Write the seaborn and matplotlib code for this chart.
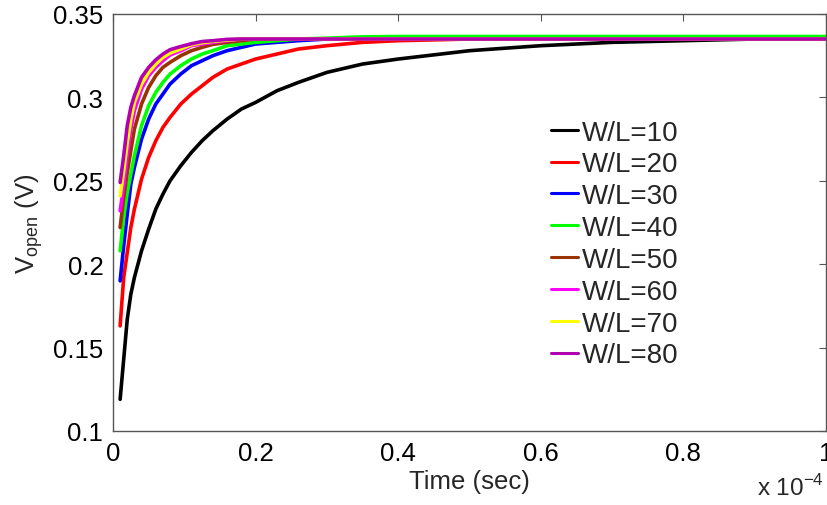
import numpy as np
import pandas as pd
import matplotlib
matplotlib.use("Agg")
import matplotlib.pyplot as plt
import seaborn as sns

# time in units of 1e-4 s
t = [0.01, 0.015, 0.02, 0.025, 0.03, 0.04, 0.05, 0.06, 0.07, 0.08, 0.095, 0.11,
     0.125, 0.14, 0.16, 0.18, 0.2, 0.23, 0.26, 0.3, 0.35, 0.4, 0.5, 0.6, 0.7,
     0.8, 0.9, 1.0]

wl10 = [0.119, 0.143, 0.167, 0.182, 0.192, 0.208, 0.221, 0.233, 0.242, 0.250,
        0.259, 0.267, 0.274, 0.280, 0.287, 0.293, 0.297, 0.304, 0.309, 0.315,
        0.320, 0.323, 0.328, 0.331, 0.333, 0.334, 0.335, 0.335]
wl20 = [0.163, 0.192, 0.207, 0.222, 0.233, 0.251, 0.264, 0.274, 0.282, 0.288,
        0.296, 0.302, 0.307, 0.312, 0.317, 0.320, 0.323, 0.326, 0.329, 0.331,
        0.333, 0.334, 0.335, 0.335, 0.335, 0.335, 0.335, 0.335]
wl30 = [0.190, 0.211, 0.230, 0.248, 0.258, 0.275, 0.287, 0.296, 0.302, 0.308,
        0.314, 0.319, 0.322, 0.325, 0.328, 0.330, 0.332, 0.333, 0.334, 0.335,
        0.335, 0.335, 0.335, 0.335, 0.335, 0.335, 0.335, 0.335]
wl40 = [0.208, 0.228, 0.243, 0.254, 0.265, 0.283, 0.295, 0.303, 0.309, 0.314,
        0.319, 0.323, 0.326, 0.328, 0.331, 0.332, 0.333, 0.334, 0.335, 0.3355,
        0.3363, 0.3365, 0.3365, 0.3365, 0.3365, 0.3365, 0.3365, 0.3365]
wl50 = [0.222, 0.240, 0.255, 0.268, 0.281, 0.296, 0.306, 0.313, 0.318, 0.321,
        0.325, 0.328, 0.330, 0.3318, 0.333, 0.334, 0.335, 0.335, 0.335, 0.335,
        0.335, 0.335, 0.335, 0.335, 0.335, 0.335, 0.335, 0.335]
wl60 = [0.232, 0.247, 0.265, 0.281, 0.292, 0.305, 0.313, 0.318, 0.322, 0.3254,
        0.328, 0.331, 0.332, 0.333, 0.334, 0.335, 0.335, 0.335, 0.335, 0.335,
        0.335, 0.335, 0.335, 0.335, 0.335, 0.335, 0.335, 0.335]
wl70 = [0.241, 0.256, 0.273, 0.287, 0.297, 0.308, 0.315, 0.320, 0.324, 0.3266,
        0.329, 0.3316, 0.3328, 0.3336, 0.3344, 0.335, 0.335, 0.335, 0.335, 0.335,
        0.335, 0.335, 0.335, 0.335, 0.335, 0.335, 0.335, 0.335]
wl80 = [0.249, 0.265, 0.283, 0.294, 0.301, 0.312, 0.318, 0.3225, 0.326, 0.3286,
        0.3305, 0.3322, 0.3335, 0.334, 0.3348, 0.335, 0.335, 0.335, 0.335, 0.335,
        0.335, 0.335, 0.335, 0.335, 0.335, 0.335, 0.335, 0.335]

labels = ["W/L=10", "W/L=20", "W/L=30", "W/L=40", "W/L=50", "W/L=60", "W/L=70", "W/L=80"]
series = [wl10, wl20, wl30, wl40, wl50, wl60, wl70, wl80]
colors = ["#000000", "#FF0000", "#0000FF", "#00FF00", "#993300", "#FF00FF", "#FFFF00", "#B000B0"]

xticks = [0, 0.2, 0.4, 0.6, 0.8, 1.0]
xticklabels = ["0", "0.2", "0.4", "0.6", "0.8", "1"]
yticks = [0.1, 0.15, 0.2, 0.25, 0.3, 0.35]
yticklabels = ["0.1", "0.15", "0.2", "0.25", "0.3", "0.35"]

df = pd.concat([pd.DataFrame({"t": t, "v": s, "lab": lab}) for lab, s in zip(labels, series)],
               ignore_index=True)

sns.set_style("white")
plt.rcParams["font.family"] = ["Liberation Sans", "DejaVu Sans"]
plt.rcParams["mathtext.fontset"] = "custom"
plt.rcParams["mathtext.rm"] = "Liberation Sans"

fig = plt.figure(figsize=(8.27, 5.06), dpi=100)
ax = fig.add_axes([113 / 827, 1 - 432 / 506, 713 / 827, (432 - 15) / 506])

sns.lineplot(data=df, x="t", y="v", hue="lab", hue_order=labels, palette=colors,
             estimator=None, sort=False, linewidth=2.6, ax=ax, legend=True)

ax.set_xlim(0, 1.0)
ax.set_ylim(0.1, 0.35)
ax.set_xticks(xticks)
ax.set_xticklabels(xticklabels)
ax.set_yticks(yticks)
ax.set_yticklabels(yticklabels)
ax.tick_params(direction="in", top=True, right=True, length=5, width=0.8,
               labelsize=18.5, colors="#555555", labelcolor="black", pad=7)
for sp in ax.spines.values():
    sp.set_visible(True)
    sp.set_color("#555555")
    sp.set_linewidth(1.0)

ax.set_xlabel("Time (sec)", fontsize=18.5, labelpad=3)
ax.set_ylabel(r"V$_{\mathregular{open}}$ (V)", fontsize=18.5, labelpad=6)

handles, _ = ax.get_legend_handles_labels()
leg = ax.legend(handles=handles, labels=labels, loc="upper left",
                bbox_to_anchor=(0.6145, 0.747), frameon=False, fontsize=20,
                handlelength=0.98, handletextpad=0.14, labelspacing=0.21,
                borderpad=0, borderaxespad=0)
for h in leg.get_lines():
    h.set_linewidth(2.2)

fig.text(824 / 827, 1 - 496 / 506, r"x 10$^{\mathregular{-4}}$", fontsize=17.5,
         ha="right", va="baseline")

fig.savefig("out.png", dpi=100)
